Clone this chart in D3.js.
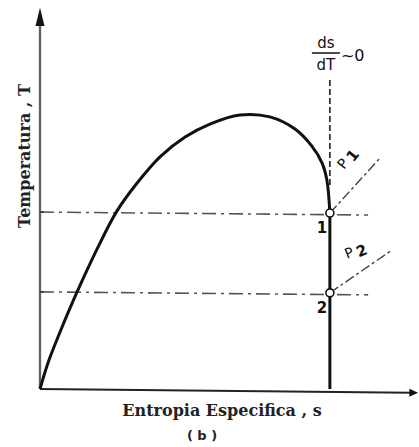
<!DOCTYPE html>
<html>
<head>
<meta charset="utf-8">
<script src="https://cdn.jsdelivr.net/npm/d3@7"></script>
<style>
  html, body { margin: 0; padding: 0; background: #fff; }
  svg { display: block; }
</style>
</head>
<body>
<svg id="chart" width="419" height="447"></svg>
<script>
// Saturation dome in the T-s plane (specific entropy s, temperature T)
const domeS = [0, 0.21, 0.48, 0.80, 1.17, 1.60, 2.05, 2.59, 3.20, 3.87, 4.53, 5.33, 6.13, 6.80, 7.25, 7.52, 7.65, 7.73];
const domeT = [0, 0.68, 1.37, 2.13, 2.95, 3.84, 4.68, 5.42, 6.11, 6.63, 6.97, 7.21, 7.16, 6.84, 6.39, 5.95, 5.50, 4.63];

// State points on the isentropic expansion line
const stateNames = ["1", "2"];
const stateS = [7.73, 7.73];
const stateT = [4.63, 2.53];

// Isobars through each state point (end points)
const isobarNames = ["P", "P"];
const isobarSub = ["1", "2"];
const isobarEndS = [9.07, 9.39];
const isobarEndT = [6.08, 3.66];

// Extents of the helper lines
const levelLineEndS = 8.75;
const slopeLineTopT = 8.13;
const slopeLineBottomT = 5.3;
const axisTitles = ["Temperatura , T", "Entropia Especifica , s", "( b )"];

const svg = d3.select("#chart");
const x = d3.scaleLinear().domain([0, 10]).range([40, 415]);
const y = d3.scaleLinear().domain([0, 10]).range([389, 9]);

// Axes
svg.append("line")
  .attr("x1", x(0)).attr("y1", y(0)).attr("x2", x(0)).attr("y2", y(9.7))
  .attr("stroke", "#666").attr("stroke-width", 2.4);
svg.append("path")
  .attr("d", `M${x(0)},${y(10.03)} L${x(0) - 4.5},${y(9.55)} L${x(0) + 4.5},${y(9.55)} Z`)
  .attr("fill", "#111");
svg.append("line")
  .attr("x1", x(0)).attr("y1", y(0)).attr("x2", x(9.9)).attr("y2", y(-0.1))
  .attr("stroke", "#222").attr("stroke-width", 2);
svg.append("path")
  .attr("d", `M${x(10.08)},${y(-0.1)} L${x(9.85)},${y(-0.1) - 4} L${x(9.85)},${y(-0.1) + 4} Z`)
  .attr("fill", "#111");

// Constant-temperature dash-dot lines
svg.selectAll("line.level").data(stateT).join("line").attr("class", "level")
  .attr("x1", x(0)).attr("x2", x(levelLineEndS))
  .attr("y1", d => y(d) - 1).attr("y2", d => y(d) + 2)
  .attr("stroke", "#555").attr("stroke-width", 1.6)
  .attr("stroke-dasharray", "14,5,3,5");

// Small ticks on the T axis at each level
svg.selectAll("line.tick").data(stateT).join("line").attr("class", "tick")
  .attr("x1", x(0)).attr("x2", x(0) + 4)
  .attr("y1", d => y(d) - 1).attr("y2", d => y(d) - 1)
  .attr("stroke", "#333").attr("stroke-width", 1.5);

// ds/dT ~ 0 dashed vertical guide
svg.append("line")
  .attr("x1", x(stateS[0])).attr("x2", x(stateS[0]))
  .attr("y1", y(slopeLineTopT)).attr("y2", y(slopeLineBottomT))
  .attr("stroke", "#333").attr("stroke-width", 1.8)
  .attr("stroke-dasharray", "6,3");

// Isobars
svg.selectAll("line.isobar").data(stateT).join("line").attr("class", "isobar")
  .attr("x1", x(stateS[0])).attr("y1", d => y(d))
  .attr("x2", (d, i) => x(isobarEndS[i])).attr("y2", (d, i) => y(isobarEndT[i]))
  .attr("stroke", "#444").attr("stroke-width", 1.4)
  .attr("stroke-dasharray", "10,3,3,3");

// Saturation dome
const dome = domeS.map((s, i) => [s, domeT[i]]);
svg.append("path").datum(dome)
  .attr("d", d3.line().x(d => x(d[0])).y(d => y(d[1])).curve(d3.curveCatmullRom.alpha(0.5)))
  .attr("fill", "none").attr("stroke", "#111").attr("stroke-width", 3);

// Isentropic expansion line down to the s axis
svg.append("line")
  .attr("x1", x(stateS[0])).attr("x2", x(stateS[0]))
  .attr("y1", y(stateT[0])).attr("y2", y(0))
  .attr("stroke", "#111").attr("stroke-width", 3);

// State points
svg.selectAll("circle.state").data(stateS).join("circle").attr("class", "state")
  .attr("cx", d => x(d)).attr("cy", (d, i) => y(stateT[i])).attr("r", 4)
  .attr("fill", "#fff").attr("stroke", "#111").attr("stroke-width", 1.6);

const sans = "'DejaVu Sans', sans-serif";
svg.selectAll("text.state").data(stateNames).join("text").attr("class", "state")
  .attr("x", x(stateS[0]) - 8).attr("y", (d, i) => y(stateT[i]) + 20)
  .attr("text-anchor", "middle").attr("font-family", sans).attr("font-weight", "bold")
  .attr("font-size", 15).attr("fill", "#111").text(d => d);

// Isobar labels
const isobarLabelPos = [[344, 170, -52], [347, 259, -22]];
isobarNames.forEach((p, i) => {
  const [lx, ly, rot] = isobarLabelPos[i];
  const t = svg.append("text")
    .attr("transform", `translate(${lx},${ly}) rotate(${rot})`)
    .attr("font-family", sans).attr("font-size", 14).attr("fill", "#111");
  t.append("tspan").text(p);
  t.append("tspan").attr("dx", 3).attr("dy", 3).attr("font-weight", "bold")
    .attr("font-size", 15).text(isobarSub[i]);
});

// ds/dT ~ 0 annotation
const fx = x(stateS[0]) - 4;
svg.append("text").attr("x", fx).attr("y", 48).attr("text-anchor", "middle")
  .attr("font-family", sans).attr("font-size", 15).attr("fill", "#111").text("ds");
svg.append("line").attr("x1", fx - 14).attr("x2", fx + 14).attr("y1", 53).attr("y2", 53)
  .attr("stroke", "#111").attr("stroke-width", 1.5);
svg.append("text").attr("x", fx).attr("y", 70).attr("text-anchor", "middle")
  .attr("font-family", sans).attr("font-size", 15).attr("fill", "#111").text("dT");
svg.append("text").attr("x", fx + 15).attr("y", 61)
  .attr("font-family", sans).attr("font-size", 16).attr("fill", "#111").text("~0");

// Axis titles
const serif = "'DejaVu Serif', 'Liberation Serif', serif";
svg.append("text")
  .attr("transform", `translate(30,156) rotate(-90)`)
  .attr("text-anchor", "middle").attr("font-family", serif).attr("font-weight", "bold")
  .attr("font-size", 16).attr("fill", "#222").text(axisTitles[0]);
svg.append("text")
  .attr("x", 222).attr("y", 416).attr("text-anchor", "middle")
  .attr("font-family", serif).attr("font-weight", "bold")
  .attr("font-size", 16).attr("fill", "#222").text(axisTitles[1]);
svg.append("text")
  .attr("x", 202).attr("y", 440).attr("text-anchor", "middle")
  .attr("font-family", sans).attr("font-weight", "bold")
  .attr("font-size", 13).attr("fill", "#222").text(axisTitles[2]);
</script>
</body>
</html>
